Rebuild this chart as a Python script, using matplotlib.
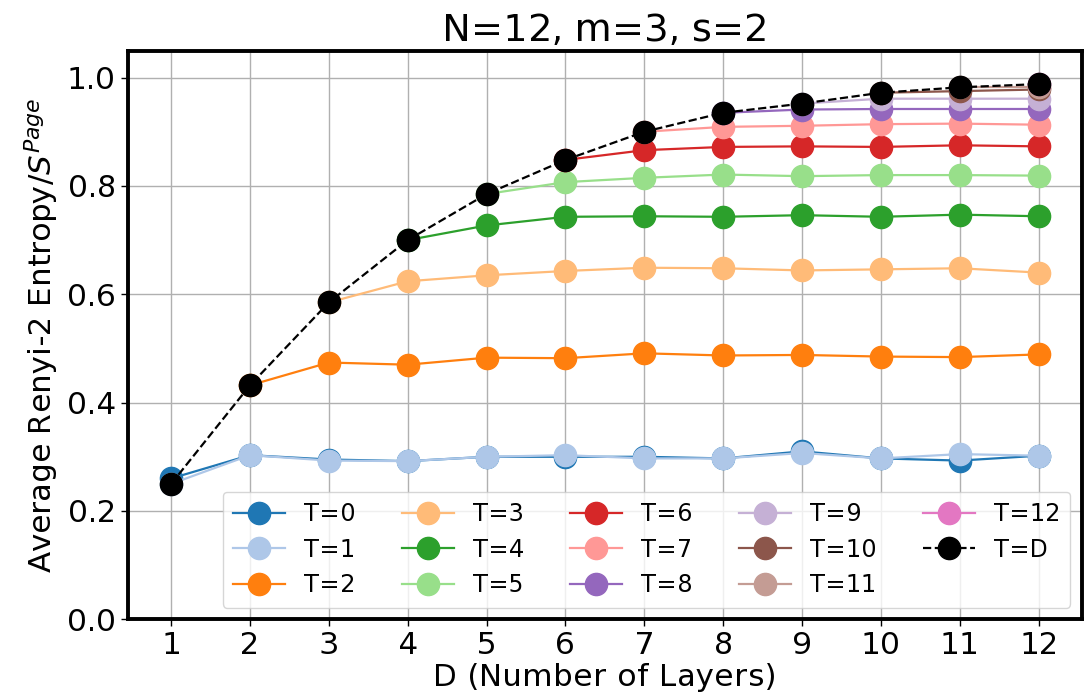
import numpy as np
from matplotlib import pyplot as plt

plt.rcParams["text.hinting"] = "force_autohint"
plt.rcParams["text.hinting_factor"] = 1

D = list(range(1, 13))

# average Renyi-2 entropy / S^Page, one row per T (series T starts at D=max(T,1))
S = {
    0: [0.260, 0.303, 0.295, 0.292, 0.300, 0.300, 0.300, 0.297, 0.310, 0.297, 0.293, 0.302],
    1: [0.250, 0.303, 0.293, 0.292, 0.300, 0.303, 0.297, 0.297, 0.307, 0.297, 0.305, 0.302],
    2: [0.432, 0.474, 0.470, 0.483, 0.482, 0.491, 0.487, 0.488, 0.485, 0.484, 0.489],
    3: [0.585, 0.624, 0.635, 0.643, 0.649, 0.648, 0.644, 0.646, 0.648, 0.640],
    4: [0.700, 0.727, 0.743, 0.744, 0.743, 0.746, 0.743, 0.747, 0.744],
    5: [0.785, 0.807, 0.815, 0.821, 0.818, 0.820, 0.820, 0.819],
    6: [0.848, 0.866, 0.872, 0.873, 0.872, 0.875, 0.873],
    7: [0.900, 0.909, 0.911, 0.914, 0.915, 0.913],
    8: [0.935, 0.941, 0.942, 0.942, 0.942],
    9: [0.952, 0.961, 0.961, 0.961],
    10: [0.972, 0.975, 0.978],
    11: [0.982, 0.982],
    12: [0.988],
}
S_diag = [0.250, 0.432, 0.585, 0.700, 0.785, 0.848, 0.900, 0.935, 0.952, 0.972, 0.982, 0.988]

cmap = plt.get_cmap("tab20")

fig = plt.figure(figsize=(10.89, 6.99), dpi=100)
ax = fig.add_axes([0.1173, 0.114, 0.8763, 0.813])

for T in range(13):
    start = max(T, 1)
    ax.plot(D[start - 1:], S[T], marker="o", markersize=16, lw=1.6,
            color=cmap(T), label="T=%d" % T)
ax.plot(D, S_diag, "k--o", markersize=16, lw=1.6, label="T=D")

ax.set_ylim(0, 1.049)
ax.set_xlim(0.45, 12.55)
ax.set_xticks(D)
ax.set_yticks([0.0, 0.2, 0.4, 0.6, 0.8, 1.0])
ax.tick_params(labelsize=22, length=5, width=1)
ax.grid(True, color="#b0b0b0", lw=1)
for sp in ax.spines.values():
    sp.set_linewidth(2.8)
ax.set_xlabel("D (Number of Layers)", fontsize=22, labelpad=2)
ax.set_ylabel(r"Average Renyi-2 Entropy/$S^{Page}$", fontsize=22.5)
ax.set_title("N=12, m=3, s=2", fontsize=27, pad=7)
ax.legend(ncol=5, loc="lower right", fontsize=17, handlelength=2.2,
          columnspacing=1.95, borderpad=0.45, labelspacing=0.48)

plt.savefig("out.png")
